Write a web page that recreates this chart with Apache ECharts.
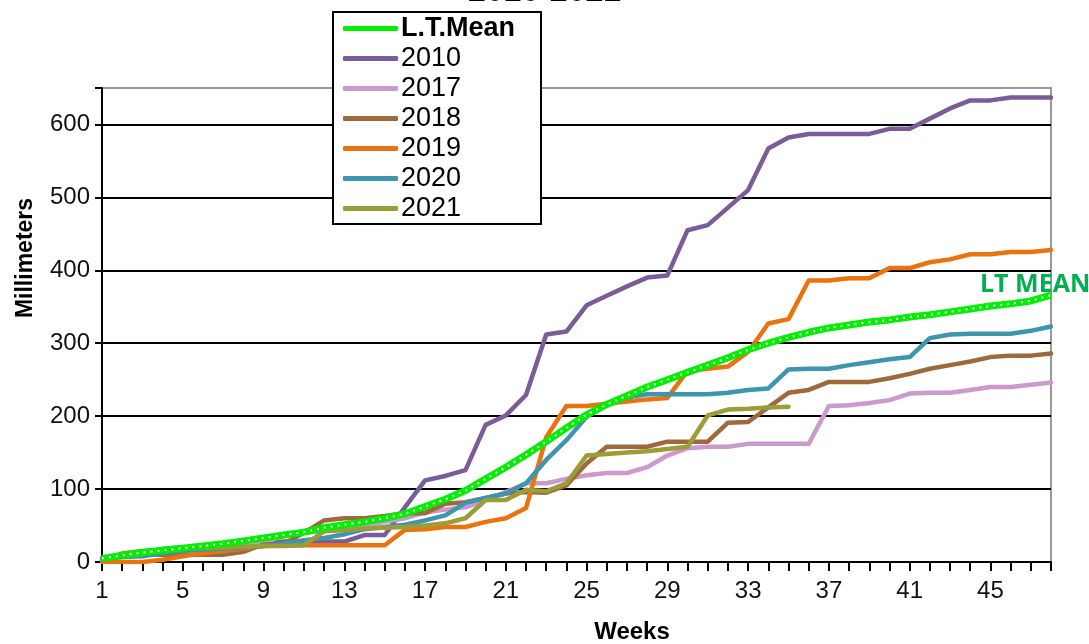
<!DOCTYPE html>
<html>
<head>
<meta charset="utf-8">
<script src="https://cdn.jsdelivr.net/npm/echarts@6/dist/echarts.min.js"></script>
<style>
  html, body { margin: 0; padding: 0; background: #fff; }
  #chart { width: 1089px; height: 644px; }
</style>
</head>
<body>
<div id="chart"></div>
<script>
// week numbers 1..48
const weeks = ['1','2','3','4','5','6','7','8','9','10','11','12','13','14','15','16','17','18','19','20','21','22','23','24',
  '25','26','27','28','29','30','31','32','33','34','35','36','37','38','39','40','41','42','43','44','45','46','47','48'];

const ltMean = [5, 9, 13, 16, 19, 22, 25, 29, 33, 37, 41, 47, 51, 55, 60, 66, 76, 86, 98, 114, 130, 147, 165, 184,
  202, 216, 228, 240, 250, 260, 270, 280, 291, 300, 308, 315, 321, 325, 329, 332, 336, 339, 343, 347, 351, 354, 358, 366];
const y2010 = [5, 8, 12, 18, 20, 22, 23, 25, 26, 28, 28, 28, 28, 37, 37, 75, 112, 118, 126, 188, 201, 229, 312, 316,
  352, 365, 378, 390, 393, 455, 462, 486, 510, 567, 582, 587, 587, 587, 587, 594, 594, 608, 622, 633, 633, 637, 637, 637];
const y2017 = [3, 8, 12, 15, 18, 20, 22, 24, 27, 36, 40, 42, 45, 50, 55, 60, 68, 72, 75, 85, 96, 108, 108, 114,
  119, 122, 122, 130, 146, 156, 158, 158, 162, 162, 162, 162, 214, 215, 218, 222, 231, 232, 232, 236, 240, 240, 243, 246];
const y2018 = [2, 8, 10, 10, 10, 10, 10, 14, 24, 25, 40, 57, 60, 60, 63, 67, 67, 80, 82, 88, 94, 96, 95, 105,
  135, 158, 158, 158, 165, 165, 165, 191, 192, 212, 232, 236, 247, 247, 247, 252, 258, 265, 270, 275, 281, 283, 283, 286];
const y2019 = [0, 0, 0, 3, 8, 12, 15, 18, 22, 23, 23, 23, 23, 23, 23, 44, 45, 48, 48, 55, 60, 74, 171, 214,
  214, 217, 220, 223, 225, 262, 265, 268, 288, 327, 333, 386, 386, 389, 389, 403, 403, 411, 415, 422, 422, 425, 425, 428];
const y2020 = [5, 7, 8, 12, 15, 17, 18, 20, 22, 25, 30, 33, 38, 45, 48, 51, 57, 64, 81, 88, 94, 108, 140, 167,
  199, 215, 226, 230, 230, 230, 230, 232, 236, 238, 264, 265, 265, 270, 274, 278, 281, 307, 312, 313, 313, 313, 317, 323];
const y2021 = [2, 12, 15, 16, 18, 19, 20, 21, 22, 22, 23, 42, 44, 46, 47, 48, 50, 53, 60, 85, 85, 99, 97, 108,
  146, 148, 150, 152, 155, 158, 201, 209, 210, 212, 213];

const yTicks = [0, 100, 200, 300, 400, 500, 600];

const myChart = echarts.init(document.getElementById('chart'));
const font = '"Liberation Sans", Arial, sans-serif';

const yearLine = (name, data, color) => ({
  name: name,
  type: 'line',
  data: data,
  symbol: 'none',
  z: 3,
  lineStyle: { color: color, width: 4.5, join: 'round', cap: 'round' },
  itemStyle: { color: color }
});

const option = {
  animation: false,
  backgroundColor: '#fff',
  textStyle: { fontFamily: font },
  grid: {
    left: 102, right: 38, top: 88, bottom: 82,
    show: true, borderColor: '#999', borderWidth: 2, backgroundColor: 'transparent'
  },
  legend: {
    orient: 'vertical',
    left: 333, top: 12,
    padding: [3, 26, 2, 10],
    itemGap: 3,
    itemWidth: 55, itemHeight: 5,
    icon: 'roundRect',
    backgroundColor: '#fff',
    borderColor: '#000', borderWidth: 2,
    textStyle: { fontFamily: font, fontSize: 27, color: '#000', lineHeight: 25, padding: [0, 0, 0, -2] },
    data: [
      { name: 'L.T.Mean', textStyle: { fontWeight: 'bold' } },
      '2010', '2017', '2018', '2019', '2020', '2021'
    ]
  },
  xAxis: {
    type: 'category',
    data: weeks,
    boundaryGap: false,
    axisLine: { lineStyle: { color: '#000', width: 2 } },
    axisTick: { interval: 0, length: 9, lineStyle: { color: '#000', width: 2 } },
    axisLabel: { interval: 3, color: '#111', fontSize: 24, margin: 17, fontFamily: font },
    splitLine: { show: false }
  },
  yAxis: {
    type: 'value',
    min: 0, max: 650, interval: 100,
    axisLine: { show: true, lineStyle: { color: '#000', width: 2 } },
    axisTick: { show: true, length: 7, lineStyle: { color: '#000', width: 2 } },
    axisLabel: {
      color: '#111', fontSize: 24, margin: 12, fontFamily: font,
      formatter: v => (yTicks.indexOf(v) >= 0 ? String(v) : '')
    },
    splitLine: {
      show: true,
      lineStyle: { color: ['#000', '#000', '#000', '#000', '#000', '#000', '#000', '#999'], width: 2 }
    }
  },
  graphic: [
    {
      type: 'text', left: 'center', top: -24,
      style: { text: '2010-2021', fontFamily: font, fontWeight: 'bold', fontSize: 32, fill: '#000', x: 40 }
    },
    {
      type: 'text', x: 26, y: 258, rotation: Math.PI / 2,
      style: { text: 'Millimeters', fontFamily: font, fontWeight: 'bold', fontSize: 23, fill: '#000',
        align: 'center', verticalAlign: 'middle' }
    },
    {
      type: 'text', x: 632, y: 632,
      style: { text: 'Weeks', fontFamily: font, fontWeight: 'bold', fontSize: 24, fill: '#000',
        align: 'center', verticalAlign: 'middle' }
    },
    {
      type: 'text', x: 980, y: 285,
      style: { text: 'LT MEAN', fontFamily: '"Open Sans", "Noto Sans", sans-serif', fontWeight: 'bold', fontSize: 25,
        fill: '#00b050', verticalAlign: 'middle' }
    }
  ],
  series: [
    yearLine('2010', y2010, '#7a5c99'),
    yearLine('2017', y2017, '#cc99cc'),
    yearLine('2018', y2018, '#9c6a3c'),
    yearLine('2019', y2019, '#e8730f'),
    yearLine('2020', y2020, '#3d95ae'),
    yearLine('2021', y2021, '#9c9c38'),
    {
      name: 'L.T.Mean',
      type: 'line',
      data: ltMean,
      symbol: 'none',
      z: 4,
      lineStyle: { color: '#00ee00', width: 7 },
      itemStyle: { color: '#00ee00' }
    },
    {
      name: 'L.T.Mean dots',
      type: 'line',
      data: ltMean,
      symbol: 'none',
      z: 5,
      silent: true,
      lineStyle: { color: '#fff', width: 2, type: [2, 5] }
    }
  ]
};

myChart.setOption(option);
window.addEventListener('resize', () => myChart.resize());
</script>
</body>
</html>
